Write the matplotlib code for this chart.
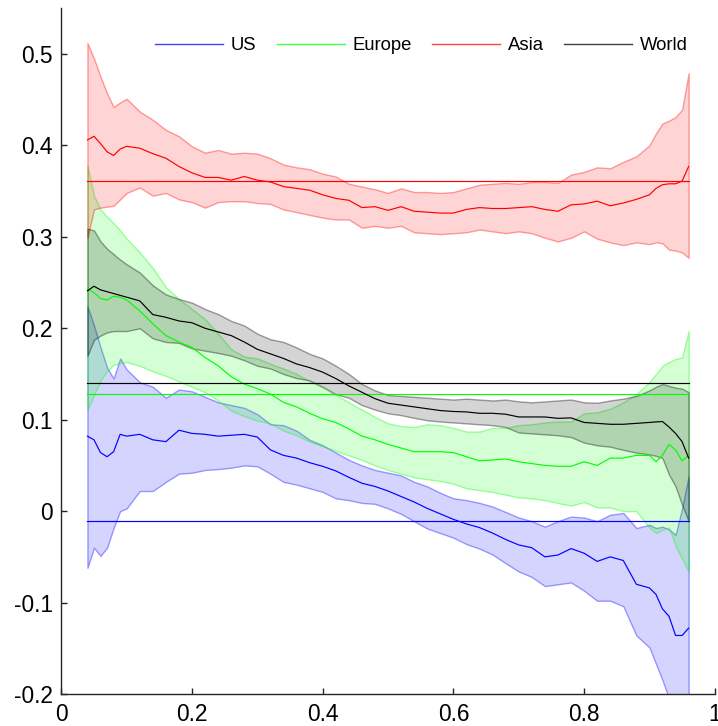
import matplotlib
matplotlib.use("Agg")
import matplotlib.pyplot as plt
from matplotlib.lines import Line2D

plt.rcParams['font.family'] = ['Liberation Sans', 'DejaVu Sans']

xs = [0.04, 0.05, 0.06, 0.07, 0.08, 0.09, 0.10,
      0.12, 0.14, 0.16, 0.18, 0.20, 0.22, 0.24, 0.26, 0.28, 0.30,
      0.32, 0.34, 0.36, 0.38, 0.40, 0.42, 0.44, 0.46, 0.48, 0.50,
      0.52, 0.54, 0.56, 0.58, 0.60, 0.62, 0.64, 0.66, 0.68, 0.70,
      0.72, 0.74, 0.76, 0.78, 0.80, 0.82, 0.84, 0.86, 0.88, 0.90,
      0.91, 0.92, 0.93, 0.94, 0.95, 0.96]

asia_mean = [0.406, 0.410, 0.402, 0.393, 0.389, 0.396, 0.399,
             0.397, 0.391, 0.386, 0.377, 0.370, 0.365, 0.365, 0.362, 0.366, 0.362,
             0.360, 0.355, 0.353, 0.351, 0.346, 0.342, 0.340, 0.332, 0.333, 0.329,
             0.333, 0.328, 0.327, 0.326, 0.326, 0.330, 0.332, 0.331, 0.331, 0.332,
             0.333, 0.330, 0.328, 0.335, 0.336, 0.339, 0.334, 0.337, 0.341, 0.346,
             0.353, 0.357, 0.358, 0.358, 0.361, 0.377]
asia_hi = [0.512, 0.495, 0.475, 0.457, 0.442, 0.447, 0.451,
           0.437, 0.428, 0.417, 0.410, 0.399, 0.392, 0.395, 0.391, 0.392, 0.391,
           0.386, 0.379, 0.376, 0.374, 0.369, 0.366, 0.358, 0.355, 0.352, 0.348,
           0.353, 0.349, 0.349, 0.348, 0.349, 0.353, 0.357, 0.358, 0.359, 0.358,
           0.360, 0.360, 0.359, 0.368, 0.371, 0.376, 0.375, 0.382, 0.388, 0.400,
           0.413, 0.424, 0.427, 0.431, 0.439, 0.479]
asia_lo = [0.299, 0.330, 0.332, 0.333, 0.334, 0.341, 0.348,
           0.354, 0.345, 0.348, 0.341, 0.338, 0.332, 0.338, 0.339, 0.339, 0.337,
           0.336, 0.330, 0.327, 0.324, 0.321, 0.319, 0.319, 0.310, 0.312, 0.310,
           0.312, 0.305, 0.304, 0.303, 0.304, 0.305, 0.308, 0.306, 0.304, 0.306,
           0.304, 0.299, 0.295, 0.299, 0.306, 0.298, 0.294, 0.291, 0.294, 0.292,
           0.294, 0.293, 0.286, 0.285, 0.283, 0.277]

world_mean = [0.241, 0.246, 0.242, 0.240, 0.238, 0.236, 0.234,
              0.230, 0.215, 0.212, 0.208, 0.206, 0.200, 0.196, 0.192, 0.185, 0.177,
              0.172, 0.167, 0.161, 0.157, 0.152, 0.145, 0.137, 0.130, 0.123, 0.118,
              0.116, 0.114, 0.112, 0.110, 0.109, 0.1085, 0.107, 0.107, 0.106, 0.103,
              0.103, 0.103, 0.1015, 0.102, 0.097, 0.096, 0.095, 0.095, 0.096, 0.097,
              0.0976, 0.098, 0.092, 0.085, 0.076, 0.058]
world_hi = [0.309, 0.307, 0.295, 0.287, 0.281, 0.275, 0.270,
            0.261, 0.247, 0.237, 0.232, 0.228, 0.221, 0.2155, 0.208, 0.203, 0.194,
            0.188, 0.185, 0.179, 0.172, 0.167, 0.159, 0.150, 0.139, 0.132, 0.127,
            0.126, 0.125, 0.124, 0.123, 0.122, 0.123, 0.122, 0.121, 0.122, 0.120,
            0.119, 0.120, 0.121, 0.122, 0.119, 0.1185, 0.121, 0.123, 0.126, 0.132,
            0.136, 0.139, 0.137, 0.135, 0.134, 0.130]
world_lo = [0.170, 0.1875, 0.192, 0.1955, 0.197, 0.197, 0.197,
            0.200, 0.189, 0.185, 0.184, 0.178, 0.1755, 0.173, 0.170, 0.165, 0.159,
            0.156, 0.150, 0.1455, 0.143, 0.136, 0.128, 0.124, 0.116, 0.111, 0.107,
            0.105, 0.102, 0.0994, 0.098, 0.097, 0.096, 0.095, 0.094, 0.092, 0.086,
            0.085, 0.084, 0.083, 0.081, 0.075, 0.072, 0.0705, 0.067, 0.064, 0.062,
            0.0605, 0.058, 0.040, 0.027, 0.007, -0.011]

europe_mean = [0.243, 0.239, 0.2325, 0.231, 0.235, 0.234, 0.231,
               0.219, 0.205, 0.192, 0.185, 0.179, 0.168, 0.159, 0.147, 0.139, 0.134,
               0.128, 0.119, 0.114, 0.107, 0.101, 0.097, 0.090, 0.082, 0.078, 0.073,
               0.069, 0.065, 0.065, 0.065, 0.064, 0.0595, 0.055, 0.056, 0.057, 0.054,
               0.052, 0.050, 0.049, 0.049, 0.054, 0.050, 0.058, 0.058, 0.061, 0.061,
               0.054, 0.061, 0.073, 0.067, 0.055, 0.061]
europe_hi = [0.378, 0.345, 0.330, 0.322, 0.315, 0.307, 0.298,
             0.283, 0.266, 0.245, 0.232, 0.221, 0.210, 0.194, 0.177, 0.169, 0.167,
             0.161, 0.156, 0.150, 0.142, 0.135, 0.127, 0.119, 0.111, 0.103, 0.096,
             0.093, 0.092, 0.095, 0.094, 0.091, 0.087, 0.087, 0.091, 0.091, 0.094,
             0.095, 0.097, 0.098, 0.098, 0.107, 0.108, 0.112, 0.119, 0.128, 0.141,
             0.150, 0.159, 0.163, 0.1665, 0.168, 0.197]
europe_lo = [0.111, 0.127, 0.143, 0.153, 0.160, 0.162, 0.163,
             0.159, 0.153, 0.148, 0.142, 0.136, 0.130, 0.121, 0.110, 0.104, 0.099,
             0.096, 0.088, 0.083, 0.076, 0.071, 0.066, 0.061, 0.056, 0.050, 0.045,
             0.041, 0.037, 0.035, 0.033, 0.030, 0.025, 0.023, 0.021, 0.018, 0.015,
             0.014, 0.012, 0.009, 0.006, 0.010, 0.004, 0.004, 0.000, 0.000, -0.018,
             -0.024, -0.020, -0.018, -0.038, -0.052, -0.066]

us_mean = [0.082, 0.078, 0.064, 0.0595, 0.065, 0.084, 0.082,
           0.084, 0.078, 0.076, 0.0885, 0.085, 0.084, 0.082, 0.083, 0.084, 0.081,
           0.067, 0.061, 0.058, 0.053, 0.049, 0.044, 0.037, 0.0305, 0.027, 0.022,
           0.016, 0.010, 0.003, -0.003, -0.009, -0.014, -0.018, -0.024, -0.031, -0.037,
           -0.040, -0.050, -0.048, -0.041, -0.046, -0.055, -0.050, -0.054, -0.080, -0.084,
           -0.091, -0.107, -0.115, -0.136, -0.136, -0.128]
us_hi = [0.224, 0.203, 0.179, 0.157, 0.145, 0.167, 0.155,
         0.141, 0.136, 0.124, 0.133, 0.131, 0.125, 0.119, 0.116, 0.113, 0.106,
         0.095, 0.094, 0.088, 0.078, 0.072, 0.064, 0.056, 0.050, 0.045, 0.042,
         0.039, 0.032, 0.027, 0.020, 0.014, 0.012, 0.009, 0.005, -0.001, -0.007,
         -0.011, -0.017, -0.011, -0.006, -0.007, -0.011, -0.004, -0.002, -0.0185, -0.015,
         -0.0185, -0.017, -0.020, -0.026, 0.003, 0.038]
us_lo = [-0.062, -0.040, -0.049, -0.040, -0.0185, 0.000, 0.003,
         0.022, 0.022, 0.032, 0.041, 0.042, 0.045, 0.046, 0.0475, 0.050, 0.049,
         0.041, 0.032, 0.029, 0.025, 0.021, 0.014, 0.012, 0.009, 0.008, 0.003,
         -0.003, -0.011, -0.019, -0.024, -0.029, -0.036, -0.041, -0.0475, -0.057, -0.066,
         -0.072, -0.082, -0.080, -0.078, -0.087, -0.098, -0.098, -0.104, -0.136, -0.149,
         -0.167, -0.185, -0.205, -0.230, -0.250, -0.260]

regions = ['US', 'Europe', 'Asia', 'World']
levels = [-0.011, 0.128, 0.361, 0.140]
colors = [(0, 0, 1), (0, 1, 0), (1, 0, 0), (0, 0, 0)]

yticks = [-0.2, -0.1, 0, 0.1, 0.2, 0.3, 0.4, 0.5]
ytick_labels = ['-0.2', '-0.1', '0', '0.1', '0.2', '0.3', '0.4', '0.5']
xticks = [0, 0.2, 0.4, 0.6, 0.8, 1]
xtick_labels = ['0', '0.2', '0.4', '0.6', '0.8', '1']

fig = plt.figure(figsize=(7.18, 7.26), dpi=100)
ax = fig.add_axes([0.0854, 0.0441, 0.9101, 0.9445])

data = {
    'US': (us_mean, us_lo, us_hi),
    'Europe': (europe_mean, europe_lo, europe_hi),
    'Asia': (asia_mean, asia_lo, asia_hi),
    'World': (world_mean, world_lo, world_hi),
}

handles = []
for name, lvl, c in zip(regions, levels, colors):
    m, lo, hi = data[name]
    ax.fill_between(xs, lo, hi, facecolor=c + (0.17,), edgecolor=c + (0.36,),
                    linewidth=1.0, zorder=1)
for name, lvl, c in zip(regions, levels, colors):
    m, lo, hi = data[name]
    ax.plot(xs, m, color=c, lw=0.85, zorder=3)
    ax.plot([xs[0], xs[-1]], [lvl, lvl], color=c, lw=0.85, zorder=3)
    handles.append(Line2D([0], [0], color=c, lw=1.0, alpha=0.75, label=name))

ax.set_xlim(0, 1)
ax.set_ylim(-0.2, 0.55)
ax.set_xticks(xticks)
ax.set_xticklabels(xtick_labels)
ax.set_yticks(yticks)
ax.set_yticklabels(ytick_labels)
for s in ['top', 'right']:
    ax.spines[s].set_visible(False)
for s in ['left', 'bottom']:
    ax.spines[s].set_color('#262626')
    ax.spines[s].set_linewidth(1.0)
ax.tick_params(direction='in', length=4, width=1, colors='#262626',
               labelcolor='black', labelsize=16.4)
ax.tick_params(axis='y', pad=6)
ax.tick_params(axis='x', pad=6.5)

ax.legend(handles=handles, ncol=4, frameon=False, loc='center',
          bbox_to_anchor=(0.551, 0.945), fontsize=13.3, handlelength=3.7,
          handletextpad=0.4, columnspacing=1.1)

fig.savefig('out.png', dpi=100)
